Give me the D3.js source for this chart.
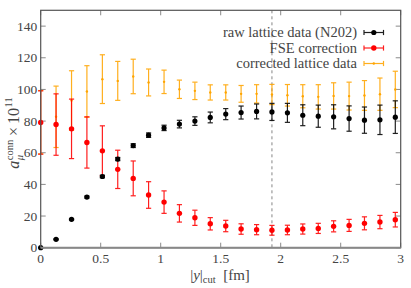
<!DOCTYPE html>
<html>
<head>
<meta charset="utf-8">
<script src="https://cdn.jsdelivr.net/npm/d3@7"></script>
<style>
  body { margin: 0; background: #fff; }
</style>
</head>
<body>
<div class="chart"></div>
<script>
// |y|_cut positions (fm)
const yCut = [0, 0.128, 0.257, 0.385, 0.514, 0.642, 0.771, 0.899, 1.028, 1.156, 1.285, 1.413,
  1.542, 1.670, 1.799, 1.927, 2.056, 2.184, 2.313, 2.441, 2.570, 2.698, 2.827, 2.955];

const rawVal = [0, 5.3, 17.9, 32.0, 45.0, 56.0, 64.5, 71.1, 75.7, 78.1, 80.0, 82.3,
  84.4, 85.4, 86.1, 85.8, 85.2, 83.7, 83.1, 82.7, 81.6, 80.6, 80.8, 82.5];
const rawErr = [0.1, 0.3, 0.4, 0.6, 0.8, 1.0, 1.2, 1.4, 1.7, 2.4, 2.7, 3.4,
  3.5, 4.1, 4.7, 5.4, 6.0, 6.6, 7.0, 7.6, 8.0, 8.3, 9.3, 10.3];

const fseVal = [79.1, 77.8, 75.1, 66.5, 61.2, 49.5, 43.8, 33.3, 28.8, 21.7, 18.9, 15.1,
  13.7, 11.8, 11.4, 11.0, 11.2, 11.8, 12.2, 13.5, 14.1, 15.4, 16.2, 17.7];
const fseErr = [20, 19.4, 18.8, 16.2, 15.8, 12.1, 11.0, 8.4, 7.1, 5.5, 4.8, 3.9,
  3.6, 3.3, 3.2, 3.1, 3.0, 3.2, 3.2, 3.5, 3.8, 4.1, 4.2, 4.6];

const corrVal = [79.3, 82.7, 93.0, 98.7, 106.5, 105.4, 108.2, 104.4, 104.8, 100.1, 99.1, 98.1,
  98.1, 97.2, 97.2, 96.8, 96.3, 95.7, 95.3, 95.9, 95.8, 96.2, 97.0, 100.0];
const corrErr = [20, 19.4, 18.8, 16.3, 15.4, 12.3, 10.9, 8.5, 7.4, 5.8, 5.5, 4.8,
  4.8, 5.3, 5.8, 6.4, 6.8, 7.3, 7.7, 8.3, 8.8, 9.4, 10.2, 11.5];

const xTicks = [0, 0.5, 1, 1.5, 2, 2.5, 3];
const yTicks = [0, 20, 40, 60, 80, 100, 120, 140];
const cutLine = 1.927;

const seriesNames = ['raw lattice data (N202)', 'FSE correction', 'corrected lattice data'];
const seriesColors = ['#000000', '#ff0000', '#ffa500'];

const width = 411, height = 288;
const margin = { top: 10.3, right: 10.3, bottom: 40.3, left: 40.7 };
const serif = "'Liberation Serif', 'DejaVu Serif', serif";

const x = d3.scaleLinear().domain([0, 3]).range([margin.left, width - margin.right]);
const y = d3.scaleLinear().domain([0, 150]).range([height - margin.bottom, margin.top]);

const svg = d3.select('.chart').append('svg')
  .attr('width', width).attr('height', height)
  .attr('font-family', serif)
  .style('font-family', serif);

const series = [
  { name: seriesNames[0], color: seriesColors[0], v: rawVal, e: rawErr, r: 2.6 },
  { name: seriesNames[1], color: seriesColors[1], v: fseVal, e: fseErr, r: 2.7 },
  { name: seriesNames[2], color: seriesColors[2], v: corrVal, e: corrErr, r: 1.2 }
];

// ticks (inward) on all four sides
const tickLen = 5;
const ticks = svg.append('g').attr('stroke', '#8a8a8a').attr('stroke-width', 1);
xTicks.forEach(t => {
  ticks.append('line').attr('x1', x(t)).attr('x2', x(t)).attr('y1', y(0)).attr('y2', y(0) - tickLen);
  ticks.append('line').attr('x1', x(t)).attr('x2', x(t)).attr('y1', y(150)).attr('y2', y(150) + tickLen);
});
yTicks.forEach(t => {
  ticks.append('line').attr('x1', x(0)).attr('x2', x(0) + tickLen).attr('y1', y(t)).attr('y2', y(t));
  ticks.append('line').attr('x1', x(3)).attr('x2', x(3) - tickLen).attr('y1', y(t)).attr('y2', y(t));
});

// dashed marker line
svg.append('line')
  .attr('x1', x(cutLine)).attr('x2', x(cutLine))
  .attr('y1', y(150)).attr('y2', y(0))
  .attr('stroke', '#777').attr('stroke-width', 0.9)
  .attr('stroke-dasharray', '3,3');

// error bars + points, orange drawn first
function drawSeries(s) {
  const g = svg.append('g');
  const cap = 2.6;
  yCut.forEach((xv, i) => {
    const cx = x(xv), lo = y(s.v[i] - s.e[i]), hi = y(s.v[i] + s.e[i]);
    const eg = g.append('g').attr('stroke', s.color).attr('stroke-width', 1.2).attr('opacity', 0.88);
    eg.append('line').attr('x1', cx).attr('x2', cx).attr('y1', lo).attr('y2', hi);
    eg.append('line').attr('x1', cx - cap).attr('x2', cx + cap).attr('y1', lo).attr('y2', lo);
    eg.append('line').attr('x1', cx - cap).attr('x2', cx + cap).attr('y1', hi).attr('y2', hi);
  });
  g.selectAll('circle').data(s.v).join('circle')
    .attr('cx', (d, i) => x(yCut[i]))
    .attr('cy', d => y(d))
    .attr('r', s.r)
    .attr('fill', s.color);
}
[series[2], series[1], series[0]].forEach(drawSeries);

// frame
svg.append('rect')
  .attr('x', x(0)).attr('y', y(150))
  .attr('width', x(3) - x(0)).attr('height', y(0) - y(150))
  .attr('fill', 'none').attr('stroke', '#555').attr('stroke-width', 1.2);
svg.append('line')
  .attr('x1', x(0)).attr('x2', x(3)).attr('y1', y(0)).attr('y2', y(0))
  .attr('stroke', '#888').attr('stroke-width', 2);

// tick labels
svg.append('g').selectAll('text').data(xTicks).join('text')
  .attr('x', d => x(d)).attr('y', y(0) + 15.5)
  .attr('text-anchor', 'middle')
  .attr('font-size', 13.5).attr('fill', '#444')
  .text(d => d);
svg.append('g').selectAll('text').data(yTicks).join('text')
  .attr('x', x(0) - 3.5).attr('y', d => y(d) + 4.5)
  .attr('text-anchor', 'end')
  .attr('font-size', 13.5).attr('fill', '#444')
  .text(d => d);

// x label: |y|_cut [fm]
const xl = svg.append('text')
  .attr('x', 220).attr('y', 280)
  .attr('text-anchor', 'middle')
  .attr('font-size', 15).attr('fill', '#444');
xl.append('tspan').text('|');
xl.append('tspan').attr('font-style', 'italic').text('y');
xl.append('tspan').text('|');
xl.append('tspan').attr('font-size', 10.5).attr('dy', 3).text('cut');
xl.append('tspan').attr('dy', -3).text('\u2002[fm]');

// y label: a_mu^conn x 10^11
const yl = svg.append('g').attr('transform', `translate(19, 133) rotate(-90)`).attr('fill', '#444');
const ta = yl.append('text').attr('font-size', 16).attr('font-style', 'italic').text('a');
const wa = ta.node().getComputedTextLength();
const tconn = yl.append('text').attr('font-size', 10.5).attr('x', wa + 0.5).attr('y', -6.5).text('conn');
const tmu = yl.append('text').attr('font-size', 10.5).attr('font-style', 'italic').attr('x', wa + 0.5).attr('y', 4).text('\u03bc');
const wsup = Math.max(tconn.node().getComputedTextLength(), tmu.node().getComputedTextLength());
const tx = yl.append('text').attr('font-size', 16).attr('x', wa + wsup + 1).text('\u2009\u00d7\u200910');
const wx = tx.node().getComputedTextLength();
const t11 = yl.append('text').attr('font-size', 10.5).attr('x', wa + wsup + 1 + wx + 0.5).attr('y', -7).text('11');
const total = wa + wsup + 1 + wx + 0.5 + t11.node().getComputedTextLength();
yl.selectAll('text').attr('transform', `translate(${-total / 2}, 0)`);

// legend
const legX = 357, legY0 = 32.5, legDy = 15.5;
series.forEach((s, i) => {
  const ly = legY0 + i * legDy;
  svg.append('text')
    .attr('x', legX).attr('y', ly + 4.5)
    .attr('text-anchor', 'end')
    .attr('font-size', 14.5).attr('fill', '#444')
    .text(s.name);
  const g = svg.append('g').attr('stroke', s.color).attr('stroke-width', 1.2).attr('opacity', 0.88);
  g.append('line').attr('x1', 364).attr('x2', 383.5).attr('y1', ly).attr('y2', ly);
  g.append('line').attr('x1', 364).attr('x2', 364).attr('y1', ly - 2.6).attr('y2', ly + 2.6);
  g.append('line').attr('x1', 383.5).attr('x2', 383.5).attr('y1', ly - 2.6).attr('y2', ly + 2.6);
  svg.append('circle').attr('cx', 373.8).attr('cy', ly).attr('r', s.r).attr('fill', s.color);
});
</script>
</body>
</html>
